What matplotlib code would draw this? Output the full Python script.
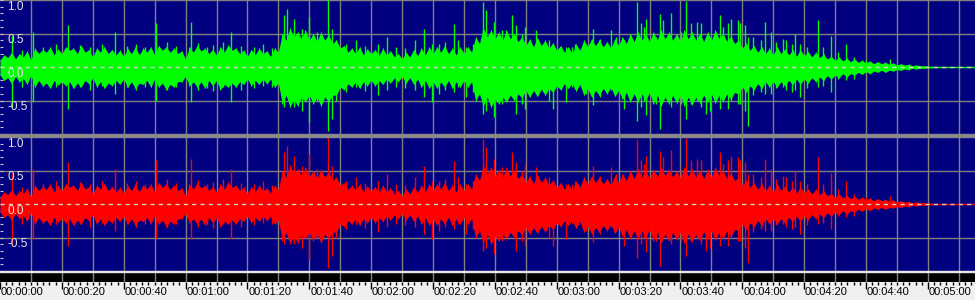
import matplotlib.pyplot as plt
import numpy as np
from matplotlib.patches import Rectangle

# dense core of the waveform, one reading every 2.5 s (peak above / below zero)
body_t = np.arange(0, 307.5, 2.5)
body_top = [0.10, 0.14, 0.12, 0.15, 0.10,
            0.20, 0.22, 0.18, 0.20, 0.25, 0.20, 0.22, 0.15,
            0.22, 0.20, 0.18, 0.16, 0.20, 0.18, 0.22, 0.18,
            0.25, 0.22, 0.20, 0.12, 0.22, 0.24, 0.20, 0.18,
            0.22, 0.25, 0.20, 0.16, 0.18, 0.20, 0.16, 0.22,
            0.40, 0.45, 0.42, 0.40, 0.38, 0.40, 0.35, 0.28,
            0.22, 0.20, 0.18, 0.20, 0.17, 0.18, 0.15, 0.12,
            0.15, 0.17, 0.18, 0.20, 0.22, 0.20, 0.18, 0.20,
            0.22, 0.35, 0.45, 0.42, 0.40, 0.42, 0.38, 0.32,
            0.30, 0.32, 0.28, 0.25, 0.22, 0.20, 0.25, 0.30,
            0.32, 0.30, 0.28, 0.32, 0.35, 0.38, 0.40, 0.38,
            0.40, 0.42, 0.40, 0.38, 0.42, 0.40, 0.38, 0.40,
            0.42, 0.38, 0.35, 0.28, 0.25, 0.22, 0.20, 0.18,
            0.20, 0.18, 0.16, 0.17, 0.15, 0.14, 0.12, 0.10,
            0.09, 0.08, 0.07, 0.06, 0.05, 0.05, 0.04, 0.03,
            0.03, 0.02, 0.02, 0.01, 0.005, 0.0]
body_bot = [0.12, 0.16, 0.14, 0.17, 0.12,
            0.20, 0.24, 0.20, 0.22, 0.22, 0.24, 0.20, 0.16,
            0.22, 0.24, 0.20, 0.18, 0.22, 0.24, 0.20, 0.18,
            0.24, 0.26, 0.22, 0.14, 0.22, 0.22, 0.20, 0.20,
            0.26, 0.24, 0.22, 0.18, 0.20, 0.18, 0.18, 0.24,
            0.42, 0.48, 0.45, 0.42, 0.45, 0.45, 0.42, 0.30,
            0.25, 0.22, 0.22, 0.20, 0.20, 0.18, 0.16, 0.14,
            0.16, 0.18, 0.20, 0.22, 0.22, 0.20, 0.22, 0.20,
            0.22, 0.40, 0.45, 0.48, 0.45, 0.42, 0.40, 0.35,
            0.35, 0.33, 0.32, 0.28, 0.25, 0.24, 0.26, 0.32,
            0.35, 0.32, 0.30, 0.35, 0.38, 0.40, 0.40, 0.38,
            0.42, 0.45, 0.42, 0.42, 0.45, 0.45, 0.42, 0.40,
            0.42, 0.40, 0.38, 0.30, 0.28, 0.25, 0.22, 0.22,
            0.22, 0.20, 0.18, 0.18, 0.16, 0.15, 0.13, 0.12,
            0.10, 0.10, 0.08, 0.07, 0.06, 0.05, 0.05, 0.04,
            0.03, 0.02, 0.02, 0.01, 0.005, 0.0]

# ragged fringe around the core, read half way between the core readings
fringe_t = np.arange(1.25, 305, 2.5)
fringe_top = [0.18, 0.22, 0.20, 0.24, 0.28, 0.26, 0.30, 0.27,
              0.30, 0.28, 0.32, 0.26, 0.28, 0.30, 0.26, 0.25,
              0.27, 0.30, 0.28, 0.30, 0.32, 0.30, 0.28, 0.24,
              0.30, 0.32, 0.28, 0.26, 0.30, 0.33, 0.28, 0.25,
              0.26, 0.28, 0.24, 0.28, 0.50, 0.58, 0.52, 0.55,
              0.50, 0.52, 0.48, 0.40, 0.32, 0.28, 0.30, 0.27,
              0.26, 0.28, 0.24, 0.20, 0.22, 0.26, 0.28, 0.30,
              0.30, 0.32, 0.28, 0.30, 0.30, 0.45, 0.58, 0.55,
              0.52, 0.55, 0.50, 0.45, 0.42, 0.44, 0.40, 0.36,
              0.32, 0.30, 0.34, 0.40, 0.42, 0.40, 0.38, 0.42,
              0.45, 0.50, 0.52, 0.50, 0.52, 0.55, 0.52, 0.50,
              0.55, 0.52, 0.50, 0.52, 0.55, 0.50, 0.46, 0.40,
              0.36, 0.32, 0.30, 0.28, 0.30, 0.27, 0.25, 0.26,
              0.23, 0.22, 0.19, 0.16, 0.15, 0.13, 0.12, 0.10,
              0.09, 0.08, 0.07, 0.06, 0.05, 0.04, 0.03, 0.02,
              0.01, 0.005]
fringe_bot = [0.20, 0.25, 0.22, 0.26, 0.30, 0.28, 0.32, 0.27,
              0.28, 0.32, 0.30, 0.25, 0.30, 0.32, 0.28, 0.26,
              0.30, 0.32, 0.26, 0.30, 0.30, 0.34, 0.30, 0.22,
              0.28, 0.30, 0.32, 0.28, 0.34, 0.30, 0.30, 0.26,
              0.28, 0.26, 0.25, 0.30, 0.55, 0.60, 0.58, 0.52,
              0.55, 0.58, 0.52, 0.42, 0.34, 0.30, 0.32, 0.28,
              0.28, 0.26, 0.24, 0.22, 0.24, 0.26, 0.30, 0.32,
              0.32, 0.30, 0.32, 0.30, 0.30, 0.50, 0.58, 0.60,
              0.55, 0.52, 0.50, 0.46, 0.45, 0.44, 0.42, 0.38,
              0.34, 0.32, 0.36, 0.42, 0.45, 0.42, 0.40, 0.44,
              0.48, 0.52, 0.52, 0.50, 0.55, 0.58, 0.55, 0.54,
              0.58, 0.56, 0.54, 0.52, 0.54, 0.52, 0.48, 0.40,
              0.38, 0.34, 0.32, 0.30, 0.30, 0.28, 0.26, 0.26,
              0.24, 0.22, 0.20, 0.18, 0.16, 0.15, 0.12, 0.11,
              0.10, 0.08, 0.08, 0.06, 0.05, 0.04, 0.03, 0.02,
              0.01, 0.005]

# single peaks sticking out of the body (time s, up, down)
spike_t = [3.8, 7.0, 10.8, 14.0, 18.0, 22.0, 26.0, 29.0, 33.0, 37.1, 41.0, 44.0, 47.0,
           50.3, 54.0, 57.0, 61.6, 64.0, 67.0, 69.0, 72.0, 74.8, 78.0, 82.0, 85.0, 88.0,
           91.9, 92.9, 95.2, 97.7, 100.0, 102.6, 106.1, 107.4, 108.7, 112.0, 115.2, 118.0,
           122.3, 125.2, 128.0, 131.0, 134.2, 137.1, 139.7, 142.0, 144.0, 146.8, 148.0,
           150.6, 153.0, 156.1, 157.1, 158.7, 159.7, 162.3, 165.5, 166.8, 168.7, 169.7,
           173.2, 177.4, 178.7, 182.9, 184.8, 186.0, 189.4, 191.6, 194.0, 197.7, 199.0,
           201.6, 205.8, 207.1, 208.1, 209.0, 212.0, 213.5, 214.5, 217.1, 220.3, 221.9,
           223.5, 225.2, 226.8, 228.4, 229.7, 232.9, 233.9, 235.5, 236.5, 238.7, 239.4,
           241.0, 241.9, 243.5, 246.0, 247.4, 249.4, 251.0, 253.0, 254.0, 256.0, 257.1,
           258.7, 261.0, 264.5, 266.0, 268.7, 271.0, 273.5, 276.0, 280.0, 287.7]
spike_top = [0.47, 0.25, 0.52, 0.30, 0.35, 0.62, 0.33, 0.30, 0.35, 0.52, 0.32, 0.35, 0.30,
             0.65, 0.38, 0.32, 0.67, 0.36, 0.30, 0.33, 0.38, 0.52, 0.32, 0.30, 0.34, 0.28,
             0.77, 0.87, 0.72, 0.57, 0.75, 0.52, 1.00, 0.57, 0.40, 0.35, 0.40, 0.32,
             0.35, 0.45, 0.30, 0.28, 0.40, 0.57, 0.35, 0.35, 0.38, 0.64, 0.40,
             0.30, 0.35, 0.97, 0.85, 0.50, 0.67, 0.55, 0.77, 0.62, 0.50, 0.60,
             0.55, 0.40, 0.35, 0.30, 0.30, 0.35, 0.35, 0.56, 0.42, 0.55, 0.45,
             0.40, 0.97, 0.65, 0.60, 0.72, 0.45, 0.79, 0.70, 0.80, 0.52, 0.98,
             0.65, 0.67, 0.65, 0.45, 0.45, 0.77, 0.60, 0.65, 0.72, 0.70, 0.65,
             0.62, 0.45, 0.45, 0.40, 0.67, 0.52, 0.38, 0.42, 0.40, 0.35, 0.50,
             0.35, 0.30, 0.70, 0.30, 0.47, 0.22, 0.35, 0.15, 0.10, 0.12]
spike_bot = [0.60, 0.30, 0.52, 0.28, 0.30, 0.62, 0.30, 0.35, 0.28, 0.40, 0.30, 0.35, 0.30,
             0.50, 0.35, 0.30, 0.52, 0.35, 0.32, 0.36, 0.30, 0.52, 0.34, 0.32, 0.28, 0.30,
             0.60, 0.45, 0.60, 0.65, 0.82, 0.50, 0.95, 0.77, 0.50, 0.38, 0.30, 0.36,
             0.42, 0.35, 0.30, 0.32, 0.35, 0.45, 0.52, 0.40, 0.35, 0.37, 0.30,
             0.45, 0.38, 0.70, 0.65, 0.45, 0.75, 0.55, 0.42, 0.70, 0.55, 0.62,
             0.40, 0.50, 0.62, 0.52, 0.30, 0.33, 0.40, 0.57, 0.45, 0.35, 0.40,
             0.62, 0.80, 0.60, 0.50, 0.72, 0.55, 0.92, 0.50, 0.60, 0.55, 0.77,
             0.55, 0.50, 0.60, 0.70, 0.65, 0.62, 0.45, 0.62, 0.50, 0.55, 0.55,
             0.65, 0.88, 0.42, 0.38, 0.40, 0.40, 0.32, 0.30, 0.35, 0.38, 0.35,
             0.45, 0.32, 0.30, 0.28, 0.37, 0.18, 0.20, 0.18, 0.05, 0.05]

channel_colors = ['#00ff00', '#ff0000']
amp_ticks = [1.0, 0.5, 0.0, -0.5]
amp_labels = ['1.0', '0.5', '0.0', '-0.5']
time_ticks = [0, 20, 40, 60, 80, 100, 120, 140, 160, 180, 200, 220, 240, 260, 280, 300]
time_labels = ['00:00:00', '00:00:20', '00:00:40', '00:01:00', '00:01:20', '00:01:40',
               '00:02:00', '00:02:20', '00:02:40', '00:03:00', '00:03:20', '00:03:40',
               '00:04:00', '00:04:20', '00:04:40', '00:05:00']

W, H = 975, 300
x_max = 975 / 3.093
navy = '#000080'
grid_c = '#808080'


def px_box(top, bottom):
    # pixel rows (from the top) -> figure fraction box
    return [0, (H - bottom) / H, 1, (bottom - top) / H]


# core and fringe readings interleaved in time -> ragged outline
all_t = np.concatenate([body_t, fringe_t])
order = np.argsort(all_t)
env_t = all_t[order]
env_top = np.concatenate([body_top, fringe_top])[order]
env_bot = np.concatenate([body_bot, fringe_bot])[order]

fig = plt.figure(figsize=(W / 100, H / 100), dpi=100)
fig.patch.set_facecolor('#f0f0f0')

for i, (top, bottom) in enumerate([(0, 134), (137, 271)]):
    ax = fig.add_axes(px_box(top, bottom))
    ax.set_facecolor(navy)
    ax.set_xlim(0, x_max)
    ax.set_ylim(-1, 1)
    for s in ax.spines.values():
        s.set_visible(False)
    ax.set_xticks([])
    ax.set_yticks(np.arange(-1, 1.01, 0.1))
    ax.tick_params(axis='y', direction='in', length=2.5, color='#c8c8c8', pad=0,
                   labelleft=False)
    for t in np.arange(10, x_max, 10):
        ax.axvline(t, color=grid_c, lw=1, zorder=1)
    for v in [0.5, -0.5]:
        ax.axhline(v, color=grid_c, lw=1, zorder=1)
    if i == 0:
        ax.axhline(0.995, color=grid_c, lw=1, zorder=1)

    c = channel_colors[i]
    ax.fill_between(env_t, env_top, -env_bot, color=c, lw=0, zorder=2)
    ax.vlines(fringe_t, -np.array(fringe_bot), fringe_top, color=c, lw=0.8, zorder=2)
    ax.vlines(spike_t, -np.array(spike_bot), spike_top, color=c, lw=1.0, zorder=2)
    ax.axhline(0, color=c, lw=1, zorder=2)
    ax.axhline(0, color='#d0d0d0', lw=1, ls=(0, (3, 3)), zorder=3)

    for v, lab in zip(amp_ticks, amp_labels):
        ax.text(7 / W, v - 0.1, lab, transform=ax.get_yaxis_transform(),
                ha='left', va='center', color='#e8e8e8', fontsize=8.5,
                family='Liberation Sans', zorder=4)

# separator between channels
fig.patches.append(Rectangle((0, (H - 137) / H), 1, 3 / H, transform=fig.transFigure,
                             color='#8a8a8a', zorder=5))
# thin white line and black bar above the time ruler
fig.patches.append(Rectangle((0, (H - 272) / H), 1, 1 / H, transform=fig.transFigure,
                             color='#e8e8e8', zorder=5))
bar = fig.add_axes(px_box(272, 282))
bar.set_xlim(0, x_max)
bar.set_ylim(0, 1)
bar.axis('off')
bar.add_patch(Rectangle((0, 0), x_max, 1, color='black'))
for t in np.arange(10, x_max, 10):
    bar.axvline(t, color=grid_c, lw=1)

ruler = fig.add_axes(px_box(282, 300))
ruler.set_facecolor('#f0f0f0')
ruler.set_xlim(0, x_max)
ruler.set_ylim(0, 1)
for s in ruler.spines.values():
    s.set_visible(False)
ruler.set_yticks([])
ruler.xaxis.tick_top()
ruler.set_xticks(time_ticks)
ruler.set_xticks(np.arange(0, x_max, 2), minor=True)
ruler.tick_params(axis='x', which='major', direction='in', length=5, width=1,
                  color='black', labeltop=False)
ruler.tick_params(axis='x', which='minor', direction='in', length=2, width=1,
                  color='black')
for t, lab in zip(time_ticks, time_labels):
    ruler.text(t + 0.3, 0.42, lab, ha='left', va='center', fontsize=8,
               family='Liberation Sans', color='black')

fig.savefig('out.png', dpi=100, facecolor=fig.get_facecolor())
